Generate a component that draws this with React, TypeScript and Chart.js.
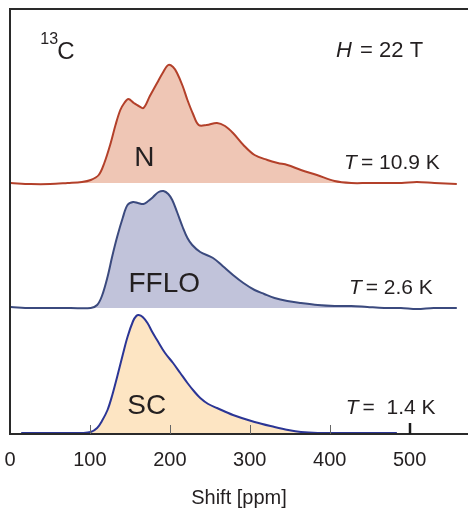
import React, { useEffect, useRef } from "react";
import { Chart, registerables } from "chart.js";

Chart.register(...registerables);

// Shift axis (ppm)
const xMin = 0;
const xMax = 573;
const tickValues = [0, 100, 200, 300, 400, 500];

// Spectra: shift (ppm) and intensity (arb. units)
const nShift = [1, 26, 50, 72, 90, 101, 111, 118, 126, 132, 138, 143, 148, 155, 161, 167, 175, 184, 191, 198, 204, 209, 216, 222, 229, 236, 246, 259, 269, 279, 292, 306, 322, 335, 347, 364, 384, 406, 427, 448, 468, 490, 509, 531, 559];
const nVals = [0, -1, -1, 0, 1, 3, 8, 20, 40, 58, 73, 80, 84, 80, 77, 75, 87, 100, 110, 118, 116, 110, 97, 83, 69, 58, 58, 60, 57, 50, 38, 28, 23, 20, 18, 13, 8, 2, 0, 0, 0, 0, 1, 0, -1];

const fShift = [1, 26, 51, 76, 101, 109, 115, 122, 128, 134, 141, 147, 154, 160, 167, 173, 179, 186, 192, 198, 203, 209, 216, 222, 228, 238, 254, 266, 279, 292, 306, 318, 331, 347, 364, 385, 406, 427, 447, 468, 489, 509, 530, 559];
const fVals = [1, 0, 0, 0, 0, 3, 12, 31, 52, 71, 90, 103, 106, 105, 104, 107, 111, 116, 117, 114, 108, 96, 81, 70, 63, 56, 50, 42, 33, 25, 18, 14, 10, 7, 5, 3, 2, 2, 1, 0, 0, -1, 0, 0];

const sShift = [14, 40, 72, 90, 101, 109, 115, 122, 128, 134, 141, 147, 154, 158, 161, 166, 172, 178, 184, 194, 204, 213, 222, 230, 238, 248, 259, 279, 306, 331, 348, 364, 385, 406, 440, 484];
const sVals = [0, 0, 0, 0, 1, 5, 12, 23, 38, 56, 78, 96, 112, 117, 118, 116, 110, 101, 93, 80, 70, 60, 50, 42, 35, 29, 25, 18, 11, 6, 3, 1, 0, 0, 0, 0];

// Vertical offsets of the stacked spectra
const nOffset = 251;
const fOffset = 126;
const sOffset = 1;
const yTop = 425;

const labels = {
  n: { text: "N", x: 168, y: 25 },
  f: { text: "FFLO", x: 193, y: 24 },
  s: { text: "SC", x: 171, y: 27 },
};

function pts(xs: number[], ys: number[], off: number) {
  return xs.map((x, i) => ({ x, y: ys[i] + off }));
}

const FONT = "'Liberation Sans', Arial, Helvetica, sans-serif";
const TEXT = "#231f20";

export default function App() {
  const ref = useRef<HTMLCanvasElement | null>(null);

  useEffect(() => {
    if (!ref.current) return;

    const decor = {
      id: "decor",
      afterDraw(chart: any) {
        const ctx = chart.ctx;
        const xs = chart.scales.x;
        const ys = chart.scales.y;
        const ca = chart.chartArea;
        ctx.save();
        // frame: left and top borders, bottom axis
        ctx.strokeStyle = "#2a2a2a";
        ctx.lineWidth = 2;
        ctx.beginPath();
        ctx.moveTo(ca.right, ca.top);
        ctx.lineTo(ca.left, ca.top);
        ctx.lineTo(ca.left, ca.bottom);
        ctx.lineTo(ca.right, ca.bottom);
        ctx.stroke();
        // inward tick marks
        tickValues.forEach((v) => {
          if (v === 0) return;
          const px = Math.round(xs.getPixelForValue(v));
          ctx.beginPath();
          if (v === 500) {
            ctx.strokeStyle = "#1a1a1a";
            ctx.lineWidth = 2.5;
            ctx.moveTo(px, ca.bottom);
            ctx.lineTo(px, ca.bottom - 11);
          } else {
            ctx.strokeStyle = "#666";
            ctx.lineWidth = 1;
            ctx.moveTo(px + 0.5, ca.bottom);
            ctx.lineTo(px + 0.5, ca.bottom - 9);
          }
          ctx.stroke();
        });

        ctx.fillStyle = TEXT;
        ctx.textBaseline = "middle";
        // 13C
        ctx.textAlign = "left";
        ctx.font = `16px ${FONT}`;
        ctx.fillText("13", xs.getPixelForValue(38), ys.getPixelForValue(yTop - 31));
        ctx.font = `24px ${FONT}`;
        ctx.fillText("C", xs.getPixelForValue(59), ys.getPixelForValue(yTop - 43));

        const drawT = (sym: string, rest: string, xv: number, yv: number, size: number, gap: number) => {
          let x = xs.getPixelForValue(xv);
          const y = ys.getPixelForValue(yv);
          ctx.font = `italic ${size}px ${FONT}`;
          ctx.fillText(sym, x, y);
          x += ctx.measureText(sym).width + gap;
          ctx.font = `${size}px ${FONT}`;
          ctx.fillText(rest, x, y);
        };
        drawT("H", " = 22 T", 408, yTop - 42, 22, 2);
        drawT("T", "= 10.9 K", 418, nOffset + 20, 21, 4);
        drawT("T", "= 2.6 K", 424, fOffset + 20, 21, 4);
        drawT("T", "=  1.4 K", 420, sOffset + 25, 21, 4);

        // phase labels
        ctx.textAlign = "center";
        ctx.font = `28px ${FONT}`;
        ctx.fillText(labels.n.text, xs.getPixelForValue(labels.n.x), ys.getPixelForValue(nOffset + labels.n.y));
        ctx.fillText(labels.f.text, xs.getPixelForValue(labels.f.x), ys.getPixelForValue(fOffset + labels.f.y));
        ctx.fillText(labels.s.text, xs.getPixelForValue(labels.s.x), ys.getPixelForValue(sOffset + labels.s.y));
        ctx.restore();
      },
    };

    const mk = (data: any[], line: string, fillC: string, off: number) => ({
      data,
      borderColor: line,
      borderWidth: 2,
      pointRadius: 0,
      tension: 0.35,
      fill: { target: { value: off }, above: fillC, below: "rgba(0,0,0,0)" },
      backgroundColor: fillC,
    });

    const chart = new Chart(ref.current, {
      type: "line",
      data: {
        datasets: [
          mk(pts(nShift, nVals, nOffset), "#b3402a", "#efc6b5", nOffset),
          mk(pts(fShift, fVals, fOffset), "#3b4a7e", "#c1c3da", fOffset),
          mk(pts(sShift, sVals, sOffset), "#2b3595", "#fde5c3", sOffset),
        ],
      },
      plugins: [decor],
      options: {
        animation: false,
        responsive: false,
        maintainAspectRatio: false,
        layout: { padding: { left: 10, right: 0, top: 9, bottom: 0 } },
        plugins: { legend: { display: false }, tooltip: { enabled: false } },
        scales: {
          x: {
            type: "linear",
            min: xMin,
            max: xMax,
            border: { display: false },
            grid: { drawOnChartArea: false, drawTicks: true, tickLength: 14, color: "rgba(0,0,0,0)" },
            afterBuildTicks: (s: any) => {
              s.ticks = tickValues.map((v) => ({ value: v }));
            },
            afterFit: (s: any) => {
              s.height = 76;
            },
            ticks: {
              includeBounds: false,
              autoSkip: false,
              maxRotation: 0,
              padding: 0,
              color: TEXT,
              font: { family: FONT, size: 20 },
              callback: (v: any) => String(v),
            },
            title: {
              display: true,
              text: "Shift [ppm]",
              color: TEXT,
              font: { family: FONT, size: 20 },
              padding: { top: 12, bottom: 0 },
            },
          },
          y: {
            type: "linear",
            min: 0,
            max: yTop,
            display: false,
          },
        },
      },
    });
    return () => chart.destroy();
  }, []);

  return (
    <div style={{ position: "fixed", left: 0, top: 0, width: 468, height: 510, background: "#fff" }}>
      <canvas ref={ref} width={468} height={510} style={{ width: 468, height: 510, display: "block" }} />
    </div>
  );
}
